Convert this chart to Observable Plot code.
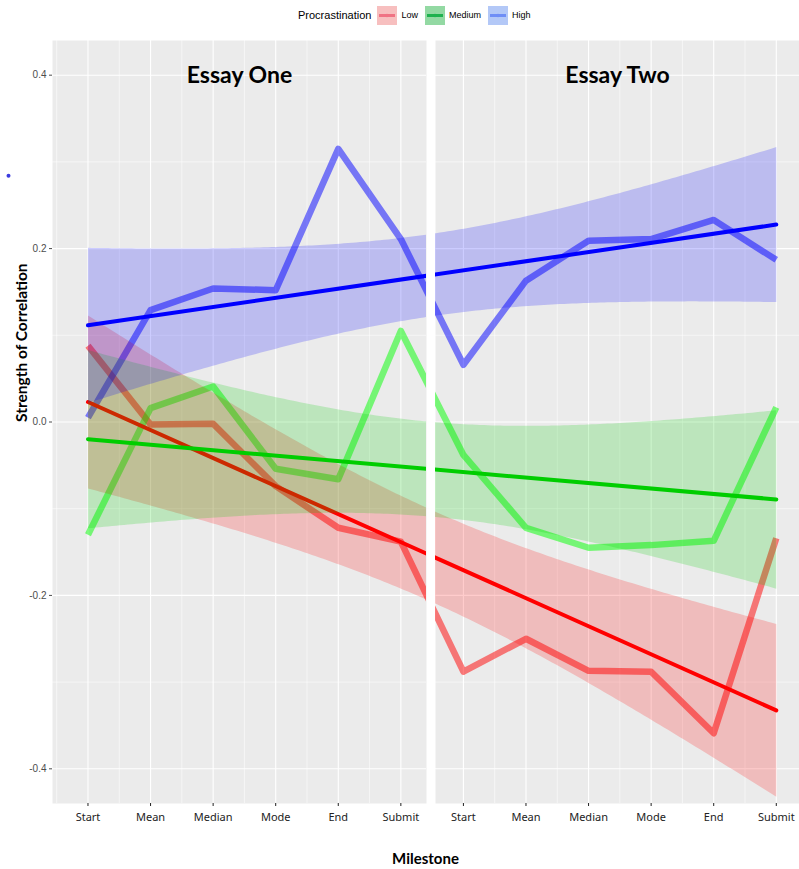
<!DOCTYPE html>
<html>
<head>
<meta charset="utf-8">
<script src="https://cdn.jsdelivr.net/npm/d3@7"></script>
<script src="https://cdn.jsdelivr.net/npm/@observablehq/plot@0.6"></script>
<style>
  body { margin: 0; background: #fff; width: 799px; height: 869px; position: relative; overflow: hidden; font-family: "Liberation Sans", Arial, sans-serif; }
  #legend { position: absolute; top: 5px; left: 298px; height: 20px; display: flex; align-items: center; color: #000; }
  #legend .title { font-size: 11px; margin-right: 6px; }
  #legend .key { width: 20px; height: 19px; margin-right: 4px; }
  #legend .lab { font-size: 9px; margin-right: 7px; }
  #panels { position: absolute; top: 30px; left: 0; display: flex; gap: 9px; }
  #xtitle { position: absolute; top: 849px; left: 52px; width: 747px; text-align: center; font: bold 15px Lato, sans-serif; color: #000; }
</style>
</head>
<body>
<div id="legend"></div>
<div id="panels"></div>
<div id="xtitle">Milestone</div>
<script>
// Milestones of each essay, and the procrastination groups
const milestones = ["Start", "Mean", "Median", "Mode", "End", "Submit"];
const essays = ["Essay One", "Essay Two"];
const groups = ["Low", "Medium", "High"];

// Correlation at each milestone: Essay One (first six), then Essay Two
const low    = [0.088, -0.003, -0.002, -0.074, -0.122, -0.138, -0.288, -0.250, -0.287, -0.288, -0.359, -0.134];
const medium = [-0.130, 0.016, 0.041, -0.054, -0.066, 0.105, -0.038, -0.122, -0.145, -0.142, -0.137, 0.017];
const high   = [0.005, 0.129, 0.154, 0.152, 0.315, 0.211, 0.066, 0.163, 0.209, 0.211, 0.233, 0.187];

const yTicks = [-0.4, -0.2, 0, 0.2, 0.4];
const yMinor = [-0.3, -0.1, 0.1, 0.3];

// lone point sitting left of the panels
const strayDot = [{pos: -0.27, r: 0.284}];

const lineColor = {Low: "#ff0000", Medium: "#00ff00", High: "#0000ff"};
const fitColor  = {Low: "#ff0000", Medium: "#00cd00", High: "#0000ff"};
const keyFill   = {Low: "#f7bfbf", Medium: "#93d9a3", High: "#b3c8f7"};
const keyLine   = {Low: "#f07384", Medium: "#1fb24f", High: "#6f8ef6"};

// one row per group and milestone; pos runs 1..12 across both essays
const rows = [];
[low, medium, high].forEach((vals, g) =>
  vals.forEach((r, i) => rows.push({
    group: groups[g], essay: essays[Math.floor(i / 6)], milestone: milestones[i % 6], pos: i + 1, r
  }))
);

// x extent shown by each panel (continuous milestone index)
const panelDomains = [[0.433, 6.41], [6.554, 12.371]];

function panel(e) {
  const isLeft = e === 0;
  const domain = panelDomains[e];
  const ticks = d3.range(e * 6 + 1, e * 6 + 7);
  const minorX = d3.range(0.5, 13, 1).filter(v => v > domain[0] && v < domain[1]);
  const marks = [
    Plot.frame({fill: "#ebebeb", stroke: "none"}),
    Plot.gridX({ticks: minorX, stroke: "#ffffff", strokeOpacity: 1, strokeWidth: 0.55}),
    Plot.gridY({ticks: yMinor, stroke: "#ffffff", strokeOpacity: 1, strokeWidth: 0.55}),
    Plot.gridX({ticks, stroke: "#ffffff", strokeOpacity: 1, strokeWidth: 1.1}),
    Plot.gridY({ticks: yTicks, stroke: "#ffffff", strokeOpacity: 1, strokeWidth: 1.1}),
    Plot.axisX({
      ticks, tickFormat: d => milestones[(d - 1) % 6], tickSize: 3, tickPadding: 7,
      fontSize: 11, fontFamily: "Noto Sans, sans-serif", color: "#222", label: null
    })
  ];
  for (const g of groups) {
    marks.push(Plot.line(rows.filter(d => d.group === g), {
      x: "pos", y: "r", stroke: lineColor[g], strokeOpacity: 0.5, strokeWidth: 6.5,
      strokeLinecap: "butt", clip: true
    }));
  }
  for (const g of groups) {
    marks.push(Plot.linearRegressionY(rows.filter(d => d.group === g), {
      x: "pos", y: "r", stroke: fitColor[g], fill: fitColor[g], fillOpacity: 0.2,
      strokeWidth: 4, ci: 0.95, clip: true
    }));
  }
  marks.push(Plot.text([essays[e]], {
    text: d => d, frameAnchor: "top", dy: 26, fontSize: 23, fontWeight: "bold",
    fontFamily: "Lato, sans-serif", fill: "#000"
  }));
  if (isLeft) {
    marks.push(Plot.axisY({
      ticks: yTicks, tickFormat: d => d.toFixed(1), tickSize: 3, tickPadding: 3,
      fontSize: 10, fontFamily: "Liberation Sans, Arial, sans-serif", color: "#4d4d4d", label: null
    }));
    marks.push(Plot.text(["Strength of Correlation"], {
      text: d => d, frameAnchor: "left", dx: -30, rotate: -90, fontSize: 15.5,
      fontWeight: "bold", fontFamily: "Lato, sans-serif", fill: "#000"
    }));
    marks.push(Plot.dot(strayDot, {x: "pos", y: "r", r: 2, fill: "#3b3bdf", stroke: "none"}));
  }
  return Plot.plot({
    width: isLeft ? 426 : 364,
    height: 810,
    marginLeft: isLeft ? 52 : 0,
    marginRight: 0,
    marginTop: 10,
    marginBottom: 37,
    style: {background: "transparent", overflow: "visible"},
    x: {domain, axis: null},
    y: {domain: [-0.44, 0.44], axis: null},
    marks
  });
}

const holder = document.getElementById("panels");
holder.append(panel(0), panel(1));

// legend
const legend = document.getElementById("legend");
const t = document.createElement("span");
t.className = "title";
t.textContent = "Procrastination";
legend.append(t);
for (const g of groups) {
  const key = document.createElementNS("http://www.w3.org/2000/svg", "svg");
  key.setAttribute("class", "key");
  key.setAttribute("width", 20);
  key.setAttribute("height", 19);
  key.innerHTML = `<rect width="20" height="19" fill="${keyFill[g]}"/>` +
    `<line x1="2" x2="18" y1="9.5" y2="9.5" stroke="${keyLine[g]}" stroke-width="3"/>` +
    `<circle cx="10" cy="9.5" r="1.8" fill="${keyLine[g]}"/>`;
  const lab = document.createElement("span");
  lab.className = "lab";
  lab.textContent = g;
  legend.append(key, lab);
}
</script>
</body>
</html>
